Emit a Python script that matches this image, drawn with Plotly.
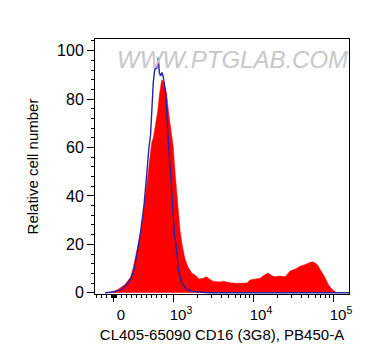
import plotly.graph_objects as go
import math

# x positions are in display (decade) units of the biexponential axis: 10^3 -> 3, 10^4 -> 4 ...
red_x = [2.2125, 2.3125, 2.4, 2.471, 2.504, 2.546, 2.596, 2.641, 2.691, 2.734, 2.754, 2.781,
         2.809, 2.831, 2.859, 2.881, 2.921, 2.95, 2.984, 3.004, 3.025, 3.056, 3.0875, 3.1125,
         3.15, 3.1875, 3.234, 3.2875, 3.325, 3.375, 3.421, 3.4625, 3.5, 3.55, 3.5875, 3.625,
         3.6625, 3.7125, 3.8, 3.875, 3.925, 3.9625, 4.025, 4.0875, 4.1375, 4.1875, 4.2375,
         4.275, 4.3375, 4.4, 4.4375, 4.4625, 4.525, 4.5875, 4.6375, 4.675, 4.7375, 4.775,
         4.8125, 4.8375, 4.875, 4.9, 4.9375, 4.9875, 5.025, 5.05]
red_y = [0, 1.4, 3.4, 6.5, 10.5, 16.5, 25, 36, 49.5, 62, 64, 70,
         75, 82, 88, 87, 82, 73, 66, 60, 50, 36, 26, 20,
         14, 10.7, 8.2, 7.0, 5.7, 6.0, 6.6, 5.5, 4.8, 4.6, 4.5, 4.8,
         4.4, 4.1, 3.9, 3.9, 4.0, 5.3, 5.5, 6.0, 7.2, 8.2, 7.0,
         6.6, 6.9, 6.6, 8.0, 9.0, 9.7, 11, 11.5, 12.1, 12.8, 12.4,
         11.3, 9.7, 7.8, 6.3, 3.6, 1.5, 0.5, 0]

blue_x = [2.15, 2.25, 2.359, 2.441, 2.481, 2.516, 2.559, 2.594, 2.6375, 2.671, 2.7, 2.719,
          2.734, 2.754, 2.769, 2.781, 2.794, 2.806, 2.816, 2.829, 2.844, 2.8625, 2.879, 2.894,
          2.9125, 2.9275, 2.944, 2.9625, 2.996, 3.019, 3.044, 3.066, 3.109, 3.171, 3.2375,
          3.3, 3.4, 3.4625, 5.2]
blue_y = [0, 0.3, 1.4, 4.1, 6.5, 9.6, 17.9, 25, 36, 49.5, 60, 65,
          75, 87, 91.5, 93, 92.5, 94, 97, 91, 89.5, 91, 89, 85,
          81.8, 70, 62, 49.5, 35.7, 24, 17.9, 9.6, 4.1, 1.4, 0.6,
          0.3, 0.1, 0, 0]

x_tick_vals = [2.25, 3, 4, 5]
x_tick_text = ["0", "10<sup>3</sup>", "10<sup>4</sup>", "10<sup>5</sup>"]
y_tick_vals = [0, 20, 40, 60, 80, 100]

x_title = "CL405-65090 CD16 (3G8), PB450-A"
y_title = "Relative cell number"
watermark = "WWW.PTGLAB.COM"

# minor tick positions (axis decoration)
minor_x = [2.04 + 0.0625 * i for i in range(15) if abs(2.04 + 0.0625 * i - 2.25) > 0.03]
minor_x += [2.225, 2.2375, 2.2625, 2.275, 2.29]
for d in (3, 4):
    minor_x += [d + math.log10(k) for k in range(2, 10)]
minor_x += [5 + math.log10(2)]

FONT = "Liberation Sans, Arial, sans-serif"

fig = go.Figure()
fig.add_trace(go.Scatter(x=red_x, y=red_y, mode="lines", fill="tozeroy",
                         line=dict(color="#ff0000", width=0.5), fillcolor="#ff0000",
                         hoverinfo="skip", showlegend=False))
fig.add_trace(go.Scatter(x=blue_x, y=blue_y, mode="lines",
                         line=dict(color="#2424a8", width=1.4),
                         hoverinfo="skip", showlegend=False))

fig.add_annotation(text=watermark, xref="paper", yref="paper", x=0.543, y=0.92,
                   showarrow=False, xanchor="center", yanchor="middle",
                   font=dict(family=FONT, size=24, color="#c8c8c8", style="italic"))

fig.update_layout(
    width=364, height=356,
    margin=dict(l=87, r=23, t=31, b=70, autoexpand=False),
    paper_bgcolor="white", plot_bgcolor="white",
    font=dict(family=FONT, color="black"),
    xaxis=dict(range=[2.025, 5.2], tickmode="array", tickvals=x_tick_vals, ticktext=x_tick_text,
               ticks="outside", ticklen=7, tickwidth=1, tickcolor="black",
               showline=True, linecolor="black", linewidth=1, mirror=True,
               showgrid=False, zeroline=False, ticklabelshift=8, automargin=False,
               tickfont=dict(size=15, family=FONT),
               minor=dict(tickmode="array", tickvals=minor_x, ticks="outside", ticklen=3,
                          tickcolor="black", tickwidth=1, showgrid=False),
               title=dict(text=x_title, font=dict(size=15, family=FONT), standoff=7)),
    yaxis=dict(range=[-0.5, 104.8], tickmode="array", tickvals=y_tick_vals,
               ticks="outside", ticklen=7, tickwidth=1, tickcolor="black",
               showline=True, linecolor="black", linewidth=1, mirror=True,
               showgrid=False, zeroline=False, automargin=False,
               tickfont=dict(size=16, family=FONT),
               minor=dict(dtick=4, tick0=0, ticks="outside", ticklen=3,
                          tickcolor="black", tickwidth=1, showgrid=False),
               title=dict(text=y_title, font=dict(size=15, family=FONT), standoff=14)),
)

fig.write_html("out.html")
